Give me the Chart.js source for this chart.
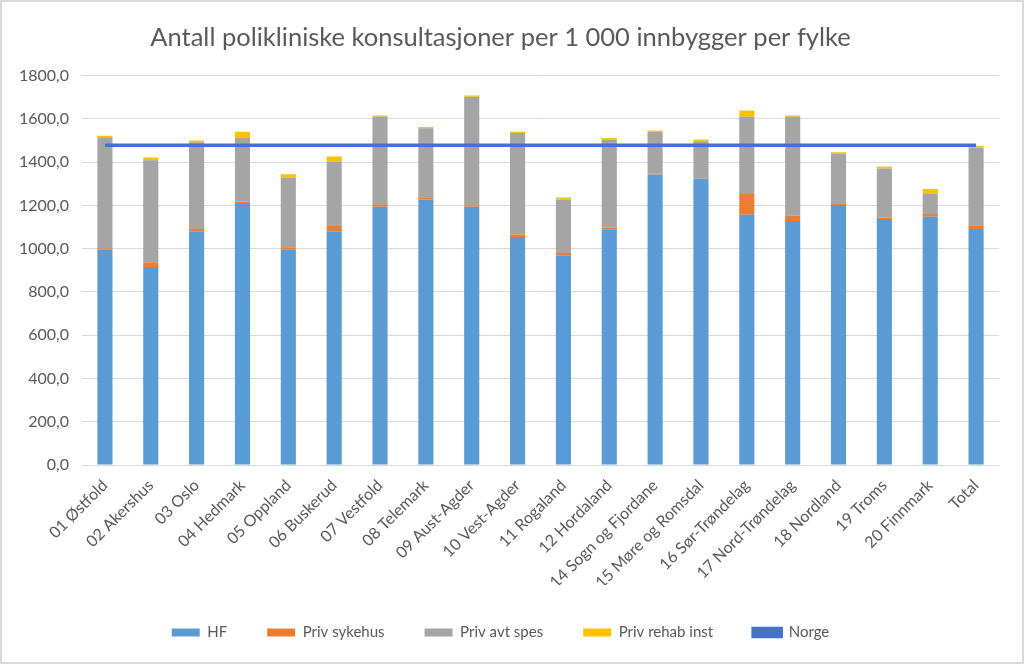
<!DOCTYPE html>
<html>
<head>
<meta charset="utf-8">
<script src="https://cdn.jsdelivr.net/npm/chart.js@4.4.1/dist/chart.umd.min.js"></script>
<style>
  html, body { margin: 0; padding: 0; background: #fff; }
  #wrap {
    width: 1024px; height: 664px;
    box-sizing: border-box;
    border: 2px solid #d9d9d9;
    background: #fff;
  }
</style>
</head>
<body>
<div id="wrap"><canvas id="chart" width="1020" height="660"></canvas></div>
<script>
  const fylker = [
    '01 Østfold', '02 Akershus', '03 Oslo', '04 Hedmark', '05 Oppland', '06 Buskerud',
    '07 Vestfold', '08 Telemark', '09 Aust-Agder', '10 Vest-Agder', '11 Rogaland',
    '12 Hordaland', '14 Sogn og Fjordane', '15 Møre og Romsdal', '16 Sør-Trøndelag',
    '17 Nord-Trøndelag', '18 Nordland', '19 Troms', '20 Finnmark', 'Total'
  ];
  const hf = [995, 915, 1080, 1211, 995, 1080, 1194, 1227, 1194, 1054, 969, 1090, 1343, 1323, 1157, 1128, 1202, 1137, 1148, 1091];
  const privSykehus = [7, 22, 11, 7, 11, 28, 11, 11, 7, 12, 11, 8, 3, 3, 96, 25, 4, 7, 12, 17];
  const privAvtSpes = [513, 472, 401, 293, 323, 295, 406, 319, 501, 469, 247, 407, 194, 171, 357, 457, 234, 226, 95, 360];
  const privRehab = [7, 12, 8, 29, 15, 23, 5, 5, 6, 6, 9, 6, 6, 8, 29, 6, 6, 10, 21, 8];
  const norge = [1478, 1478, 1478, 1478, 1478, 1478, 1478, 1478, 1478, 1478, 1478, 1478, 1478, 1478, 1478, 1478, 1478, 1478, 1478, 1478];

  const textColor = '#595959';
  const fontFamily = 'Lato, "Open Sans", sans-serif';

  function barSet(label, data, color) {
    return {
      type: 'bar',
      label: label,
      data: data,
      backgroundColor: color,
      borderWidth: 0,
      stack: 'fylke',
      order: 1,
      barPercentage: 0.33,
      categoryPercentage: 1.0
    };
  }

  const ctx = document.getElementById('chart').getContext('2d');
  new Chart(ctx, {
    data: {
      labels: fylker,
      datasets: [
        barSet('HF', hf, '#5B9BD5'),
        barSet('Priv sykehus', privSykehus, '#ED7D31'),
        barSet('Priv avt spes', privAvtSpes, '#A5A5A5'),
        barSet('Priv rehab inst', privRehab, '#FFC000'),
        {
          type: 'line',
          label: 'Norge',
          data: norge,
          borderColor: '#4472C4',
          backgroundColor: '#4472C4',
          borderWidth: 3.5,
          pointRadius: 0,
          stack: 'norge',
          order: 0
        }
      ]
    },
    options: {
      responsive: false,
      animation: false,
      layout: { padding: { left: 0, right: 23, top: 0, bottom: 12 } },
      plugins: {
        title: {
          display: true,
          text: 'Antall polikliniske konsultasjoner per 1 000 innbygger per fylke',
          color: textColor,
          font: { family: fontFamily, size: 25.5, weight: 'normal' },
          padding: { top: 20, bottom: 23 }
        },
        legend: {
          position: 'bottom',
          labels: {
            color: textColor,
            font: { family: fontFamily, size: 15 },
            boxWidth: 28,
            boxHeight: 8,
            padding: 40,
            sort: (a, b) => a.datasetIndex - b.datasetIndex
          }
        },
        tooltip: { enabled: false }
      },
      scales: {
        x: {
          stacked: true,
          grid: { display: false },
          border: { color: '#d9d9d9' },
          ticks: {
            color: textColor,
            font: { family: fontFamily, size: 16 },
            minRotation: 45,
            maxRotation: 45,
            autoSkip: false
          },
          afterFit: (scale) => { scale.height = 120; }
        },
        y: {
          stacked: true,
          min: 0,
          max: 1800,
          grid: { color: '#d9d9d9', drawTicks: false },
          border: { display: false },
          ticks: {
            stepSize: 200,
            color: textColor,
            font: { family: fontFamily, size: 16 },
            padding: 13,
            callback: (v) => v.toFixed(1).replace('.', ',')
          },
          afterFit: (scale) => { scale.width = 80; }
        }
      }
    }
  });
</script>
</body>
</html>
